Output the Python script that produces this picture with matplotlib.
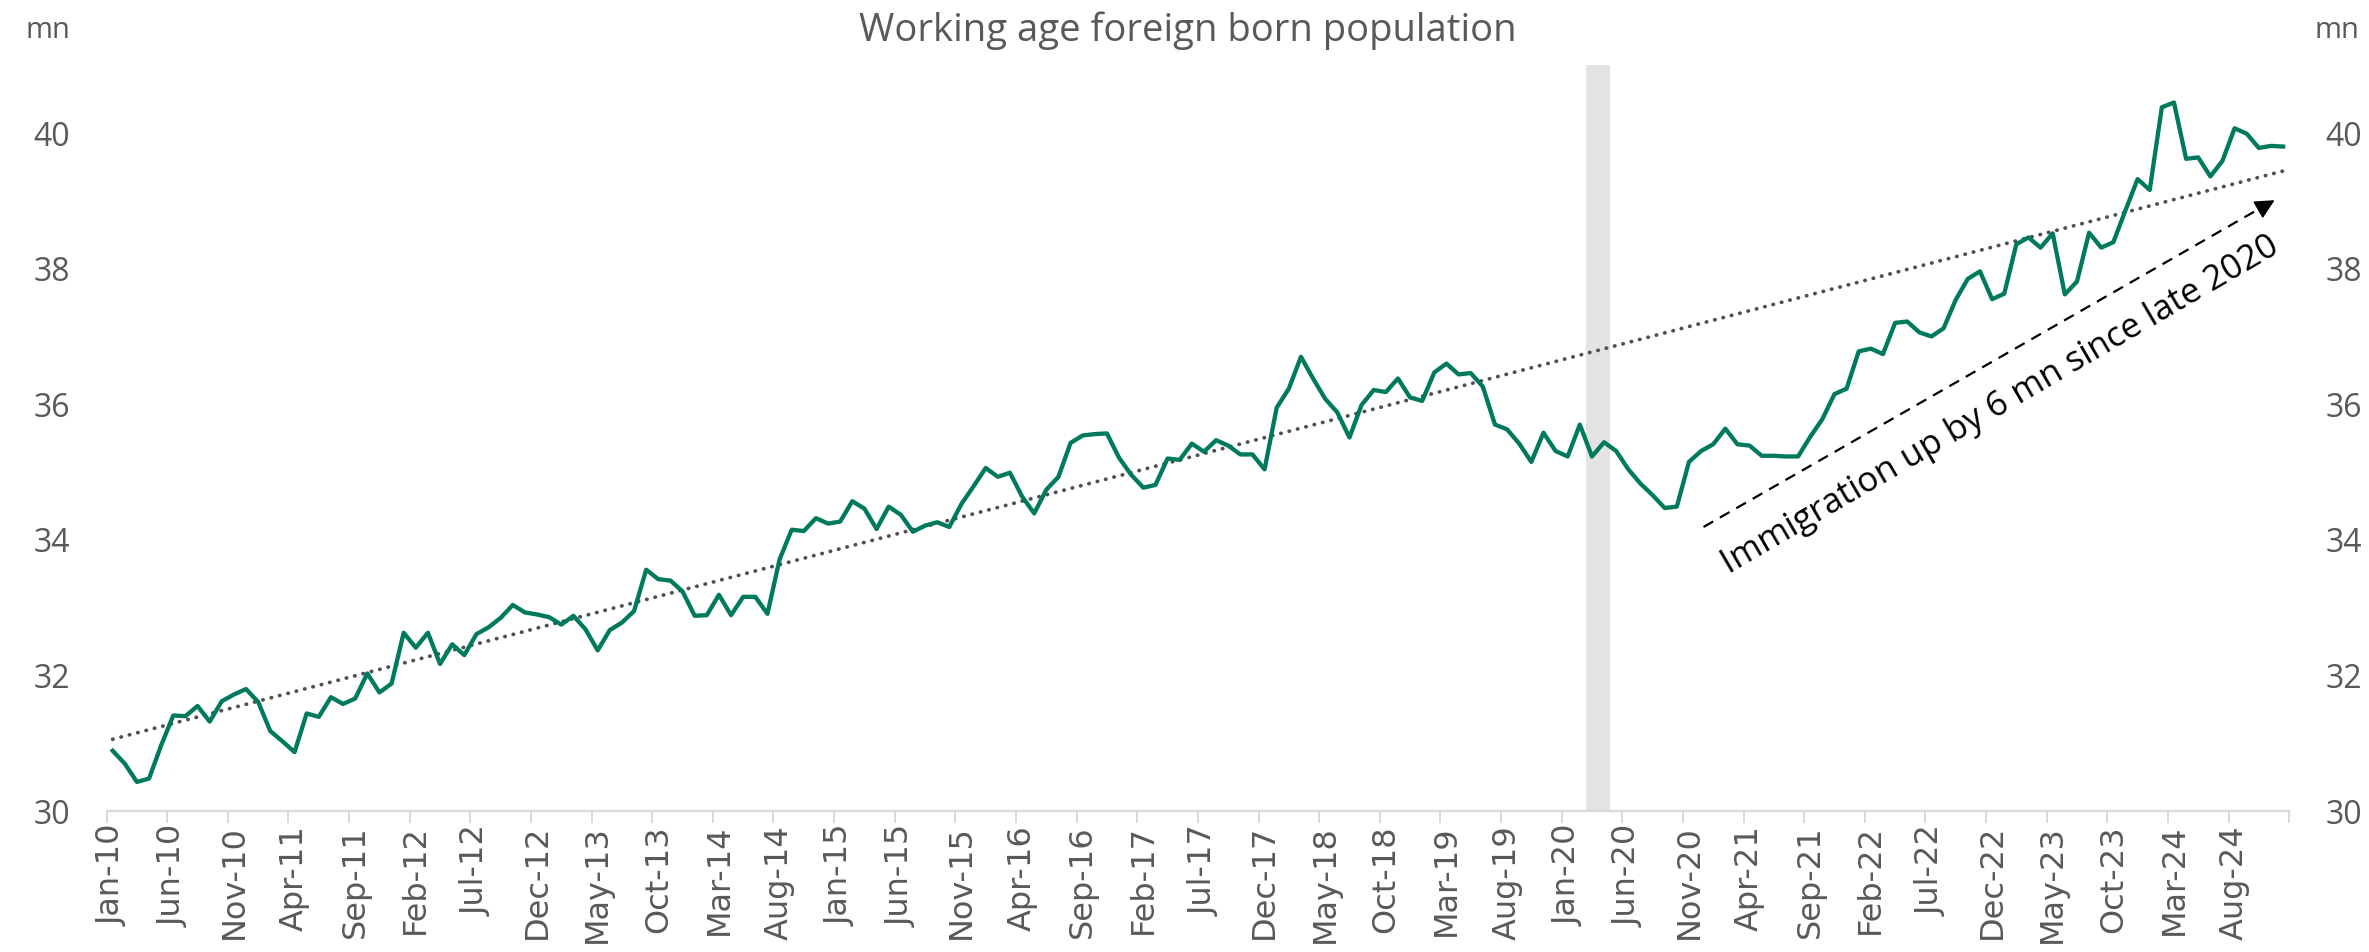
import numpy as np
import pandas as pd
import matplotlib
matplotlib.use("Agg")
import matplotlib.pyplot as plt

# monthly, Jan-2010 .. Dec-2024, millions
months = pd.date_range("2010-01-01", periods=180, freq="MS").strftime("%b-%y").tolist()
population = [
    30.89, 30.70, 30.43, 30.48, 30.97, 31.41, 31.40, 31.55, 31.32, 31.62,
    31.72, 31.80, 31.61, 31.18, 31.03, 30.87, 31.44, 31.39, 31.68, 31.58,
    31.66, 32.03, 31.75, 31.88, 32.63, 32.41, 32.63, 32.17, 32.46, 32.30,
    32.61, 32.71, 32.85, 33.04, 32.93, 32.90, 32.86, 32.75, 32.88, 32.68,
    32.37, 32.67, 32.78, 32.95, 33.56, 33.42, 33.40, 33.24, 32.88, 32.89,
    33.19, 32.89, 33.16, 33.16, 32.91, 33.71, 34.15, 34.13, 34.32, 34.24,
    34.27, 34.57, 34.46, 34.16, 34.49, 34.37, 34.12, 34.21, 34.26, 34.19,
    34.53, 34.79, 35.06, 34.93, 34.99, 34.64, 34.39, 34.74, 34.93, 35.43,
    35.54, 35.56, 35.57, 35.21, 34.96, 34.77, 34.81, 35.20, 35.18, 35.42,
    35.30, 35.47, 35.39, 35.26, 35.26, 35.04, 35.95, 36.23, 36.70, 36.38,
    36.08, 35.88, 35.51, 35.99, 36.21, 36.18, 36.38, 36.10, 36.05, 36.47,
    36.60, 36.44, 36.46, 36.26, 35.70, 35.63, 35.42, 35.15, 35.58, 35.31,
    35.23, 35.70, 35.23, 35.44, 35.31, 35.04, 34.83, 34.66, 34.47, 34.49,
    35.15, 35.31, 35.41, 35.64, 35.41, 35.39, 35.24, 35.24, 35.23, 35.23,
    35.52, 35.78, 36.15, 36.23, 36.78, 36.82, 36.74, 37.20, 37.22, 37.06,
    37.00, 37.12, 37.54, 37.85, 37.96, 37.55, 37.63, 38.36, 38.46, 38.31,
    38.52, 37.62, 37.81, 38.53, 38.31, 38.39, 38.86, 39.32, 39.16, 40.38,
    40.45, 39.62, 39.64, 39.36, 39.59, 40.07, 39.99, 39.78, 39.81, 39.80,
]
# trend line as drawn in the source (first and last month)
trend_ends = [31.06, 39.44]
covid_months = ["Mar-20", "Apr-20"]
y_ticks = [30, 32, 34, 36, 38, 40]

GREEN = "#007a5c"
GREY = "#595959"

x = np.arange(len(population)) + 0.5   # points sit between tick marks
y = np.array(population)

fig = plt.figure(figsize=(23.69, 9.52), dpi=100)
ax = fig.add_axes([0.045, 0.148, 0.9213, 0.7835])

# covid shading
c0 = months.index(covid_months[0])
c1 = months.index(covid_months[-1]) + 1
ax.axvspan(c0, c1, color="#e3e3e3", lw=0, zorder=0)

ax.plot(x, y, color=GREEN, lw=3.1, zorder=3)

# linear trend
ax.plot([x[0], x[-1]], trend_ends, color="#505050", lw=2.7, linestyle=(0, (0.1, 2.2)),
        dash_capstyle="round", zorder=2)

# annotation arrow
arr_start = (131.7, 34.19)
arr_end = (179.0, 39.03)
ax.plot([arr_start[0], arr_end[0] - 1.2], [arr_start[1], arr_end[1] - 0.12],
        color="black", lw=1.6, linestyle=(0, (5, 3.5)), zorder=4)
ax.annotate("", xy=arr_end, xytext=(arr_end[0] - 1.5, arr_end[1] - 0.155),
            arrowprops=dict(arrowstyle="-|>", color="black", lw=1.2,
                            mutation_scale=30), zorder=4)
ax.text(156.2, 35.98, "Immigration up by 6 mn since late 2020", rotation=30.3,
        rotation_mode="anchor", ha="center", va="center",
        fontsize=25, family="Open Sans", color="black", zorder=5)

ax.set_xlim(0, len(population))
ax.set_ylim(30, 41)

ax.set_xticks(np.arange(0, len(population) + 1, 5))
ax.set_xticklabels([])
ax.set_xticks(np.arange(0, len(population), 5) + 0.5, minor=True)
ax.set_xticklabels(months[::5], minor=True, rotation=90, fontsize=23,
                   family="DejaVu Sans", color=GREY)
ax.tick_params(axis="x", which="major", length=8.5, width=1.4, color="#d9d9d9")
ax.tick_params(axis="x", which="minor", length=0, pad=10)

ax.set_yticks(y_ticks)
ax.set_yticklabels([str(t) for t in y_ticks], fontsize=23, family="Open Sans", color=GREY)
ax.tick_params(axis="y", length=0, pad=26, labelleft=True, labelright=True)

for s in ["top", "left", "right"]:
    ax.spines[s].set_visible(False)
ax.spines["bottom"].set_color("#d9d9d9")
ax.spines["bottom"].set_linewidth(1.6)

fig.text(0.5015, 0.968, "Working age foreign born population", ha="center", va="center",
         fontsize=27.5, family="Open Sans", color=GREY)
fig.text(0.0203, 0.968, "mn", ha="center", va="center", fontsize=21, family="Open Sans", color=GREY)
fig.text(0.9865, 0.968, "mn", ha="center", va="center", fontsize=21, family="Open Sans", color=GREY)

fig.savefig("out.png", dpi=100)
